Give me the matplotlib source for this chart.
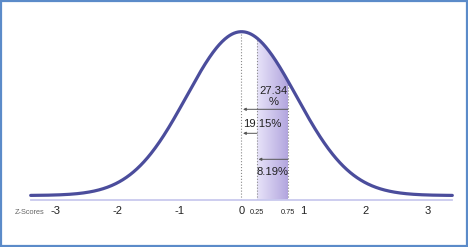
import numpy as np
import matplotlib
matplotlib.use("Agg")
import matplotlib.pyplot as plt
from matplotlib.colors import LinearSegmentedColormap
from matplotlib.patches import Rectangle

plt.rcParams['font.family'] = ['Liberation Sans', 'DejaVu Sans']

# ---- data ----
z_min, z_max = -3.4, 3.4
sigma = 0.885            # spread of the drawn bell curve (in z-tick units)
shade_lo, shade_hi = 0.25, 0.75
major_ticks = [-3, -2, -1, 0, 1, 2, 3]
major_labels = ['-3', '-2', '-1', '0', '1', '2', '3']
minor_ticks = [0.25, 0.75]
minor_labels = ['0.25', '0.75']
pct_labels = ['27.34\n%', '19.15%', '8.19%']
arrow_from = [0.75, 0.25, 0.75]
arrow_to = [0.0, 0.0, 0.25]

W, H = 468, 247
fig = plt.figure(figsize=(W / 100, H / 100), dpi=100)
ax = fig.add_axes([0, 47 / H, 1, 200 / H])
px_per_z = 62.0
z0_px = 241.5
ax.set_xlim(-z0_px / px_per_z, (W - z0_px) / px_per_z)
hscale = 163.8
ybot = -4.5 / hscale
ax.set_ylim(ybot, (200 - 4.5) / hscale)

def curve(z):
    return np.exp(-np.asarray(z) ** 2 / (2 * sigma ** 2))

z = np.linspace(z_min, z_max, 600)
y = curve(z)

# gradient shaded region
zs = np.linspace(shade_lo, shade_hi, 100)
poly_x = np.concatenate([[shade_lo], zs, [shade_hi]])
poly_y = np.concatenate([[ybot], curve(zs), [ybot]])
poly = plt.Polygon(np.column_stack([poly_x, poly_y]), closed=True,
                   facecolor='none', edgecolor='none')
ax.add_patch(poly)
cmap = LinearSegmentedColormap.from_list('lav', ['#e8e4f9', '#b2a5de'])
grad = np.linspace(0, 1, 256).reshape(1, -1)
im = ax.imshow(grad, cmap=cmap, aspect='auto',
               extent=[shade_lo, shade_hi, ybot, 1.0], zorder=1)
im.set_clip_path(poly)

# dotted verticals
for zz in [0.0, shade_lo, shade_hi]:
    ax.plot([zz, zz], [ybot, curve(zz)], linestyle=':', color='#8a8a8a',
            lw=0.8, zorder=2)

# curve
ax.plot(z, y, color='#4b4d9c', lw=2.3, solid_capstyle='round', zorder=4)

# arrows + percentage labels
arrow_y_px = [109.3, 133.3, 159.3]
for a_from, a_to, ypx in zip(arrow_from, arrow_to, arrow_y_px):
    yy = (195.5 - ypx) / hscale
    ax.annotate('', xy=(a_to + 0.025, yy), xytext=(a_from, yy),
                arrowprops=dict(arrowstyle='-|>', color='#555555', lw=0.7,
                                mutation_scale=4, shrinkA=0, shrinkB=0),
                zorder=3)

ax.text((shade_lo + shade_hi) / 2 + 0.02, (195.5 - 96.5) / hscale, pct_labels[0],
        ha='center', va='center', fontsize=8.1, color='#222222',
        linespacing=1.05, zorder=5)
ax.text(0.03, (195.5 - 124.3) / hscale, pct_labels[1], ha='left', va='center',
        fontsize=8.1, color='#222222', zorder=5)
ax.text(shade_lo - 0.01, (195.5 - 171.7) / hscale, pct_labels[2], ha='left',
        va='center', fontsize=8.1, color='#222222', zorder=5)

# axis
for s in ['top', 'left', 'right']:
    ax.spines[s].set_visible(False)
ax.spines['bottom'].set_bounds(z_min, z_max)
ax.spines['bottom'].set_color('#c9c9ee')
ax.spines['bottom'].set_linewidth(1.3)
ax.set_yticks([])
ax.set_xticks(major_ticks)
ax.set_xticklabels(major_labels)
ax.set_xticks(minor_ticks, minor=True)
ax.set_xticklabels(minor_labels, minor=True)
ax.tick_params(axis='x', which='major', length=0, pad=4.3, labelsize=8,
               labelcolor='#222222')
ax.tick_params(axis='x', which='minor', length=0, pad=6.8, labelsize=5.3,
               labelcolor='#222222')
ax.patch.set_alpha(0)

fig.text(44.5 / W, 1 - 212 / H, 'Z-Scores', ha='right', va='center',
         fontsize=5.3, color='#666666')

fig.patches.append(Rectangle((0.0015, 0.003), 0.996, 0.993, transform=fig.transFigure,
                             fill=False, edgecolor='#5b8bc9', lw=1.6))

fig.savefig('out.png', dpi=100)
